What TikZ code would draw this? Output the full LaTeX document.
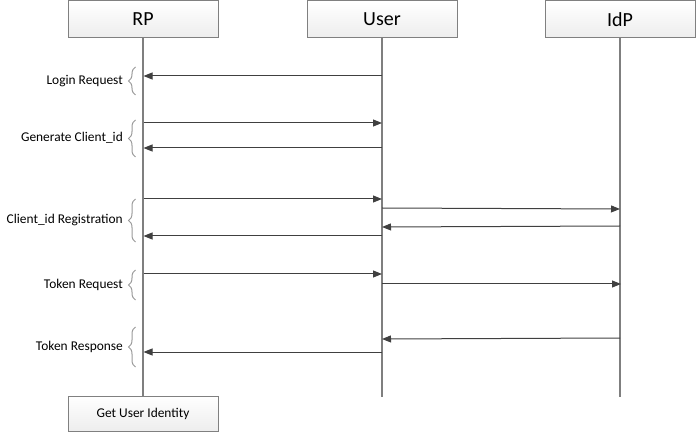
\documentclass[tikz,border=0pt]{standalone}
\usepackage{fontspec}
\setmainfont{Carlito}
\usetikzlibrary{arrows.meta,decorations.pathreplacing}
\definecolor{boxedge}{HTML}{808080}
\definecolor{lifeclr}{HTML}{7F7F7F}
\definecolor{msgclr}{HTML}{404040}
\definecolor{braceclr}{HTML}{999999}
\begin{document}
\begin{tikzpicture}[x=1bp,y=-1bp,
  actorbox/.style={draw=boxedge, line width=1bp, top color=white, bottom color=gray!14,
    minimum width=150bp, minimum height=37bp, inner sep=0pt,
    font=\fontsize{20bp}{24bp}\selectfont},
  lifeline/.style={draw=lifeclr, line width=1.2bp},
  msg/.style={draw=msgclr, line width=1bp, -{Triangle[length=9bp,width=7bp]}},
  bracestyle/.style={draw=braceclr, line width=1bp, decorate,
    decoration={brace, amplitude=7bp, aspect=0.5}},
  lbl/.style={anchor=east, inner sep=0pt, font=\fontsize{13.4bp}{15bp}\selectfont}]
\useasboundingbox (0,0) rectangle (696,433);

% actor boxes
\node[actorbox] (rp)   at (143,19.5) {RP};
\node[actorbox] (user) at (382,19.5) {User};
\node[actorbox] (idp)  at (620,19.5) {IdP};
\node[actorbox, minimum height=35bp, font=\fontsize{13.4bp}{15bp}\selectfont] (get) at (143,413.5) {Get User Identity};

% lifelines
\coordinate (userend) at (382,397);
\coordinate (idpend) at (620,397);
\draw[lifeline] (rp.south) -- (get.north);
\draw[lifeline] (user.south) -- (userend);
\draw[lifeline] (idp.south) -- (idpend);

% lifeline anchor points
\coordinate (r1) at (143.5,76);  \coordinate (u1) at (382,76);
\coordinate (r2) at (143.5,123); \coordinate (u2) at (382,123);
\coordinate (r3) at (143.5,148); \coordinate (u3) at (382,148);
\coordinate (r4) at (143.5,199); \coordinate (u4) at (382,199);
\coordinate (u5) at (382,208);   \coordinate (i5) at (620,209);
\coordinate (i6) at (620,226);   \coordinate (u6) at (382,227);
\coordinate (u7) at (382,236);   \coordinate (r7) at (143.5,236);
\coordinate (r8) at (143.5,274); \coordinate (u8) at (382,274);
\coordinate (u9) at (382,284);   \coordinate (i9) at (621,284);
\coordinate (i10) at (620,338);  \coordinate (u10) at (382,339);
\coordinate (u11) at (382,352);  \coordinate (r11) at (143.5,352);

% messages
\draw[msg] (u1) -- (r1);
\draw[msg] (r2) -- (u2);
\draw[msg] (u3) -- (r3);
\draw[msg] (r4) -- (u4);
\draw[msg] (u5) -- (i5);
\draw[msg] (i6) -- (u6);
\draw[msg] (u7) -- (r7);
\draw[msg] (r8) -- (u8);
\draw[msg] (u9) -- (i9);
\draw[msg] (i10) -- (u10);
\draw[msg] (u11) -- (r11);

% braces
\coordinate (b1a) at (135.5,95);  \coordinate (b1b) at (135.5,67);
\coordinate (b2a) at (135.5,157); \coordinate (b2b) at (135.5,120);
\coordinate (b3a) at (135.5,242); \coordinate (b3b) at (135.5,199);
\coordinate (b4a) at (135.5,300); \coordinate (b4b) at (135.5,270);
\coordinate (b5a) at (135.5,367); \coordinate (b5b) at (135.5,327);
\draw[bracestyle] (b1a) -- (b1b);
\draw[bracestyle] (b2a) -- (b2b);
\draw[bracestyle] (b3a) -- (b3b);
\draw[bracestyle] (b4a) -- (b4b);
\draw[bracestyle] (b5a) -- (b5b);

% labels
\node[lbl] (l1) at (123,81)  {Login Request};
\node[lbl] (l2) at (123,138) {Generate Client\_id};
\node[lbl] (l3) at (123,220) {Client\_id Registration};
\node[lbl] (l4) at (123,285) {Token Request};
\node[lbl] (l5) at (123,347) {Token Response};
\end{tikzpicture}
\end{document}
